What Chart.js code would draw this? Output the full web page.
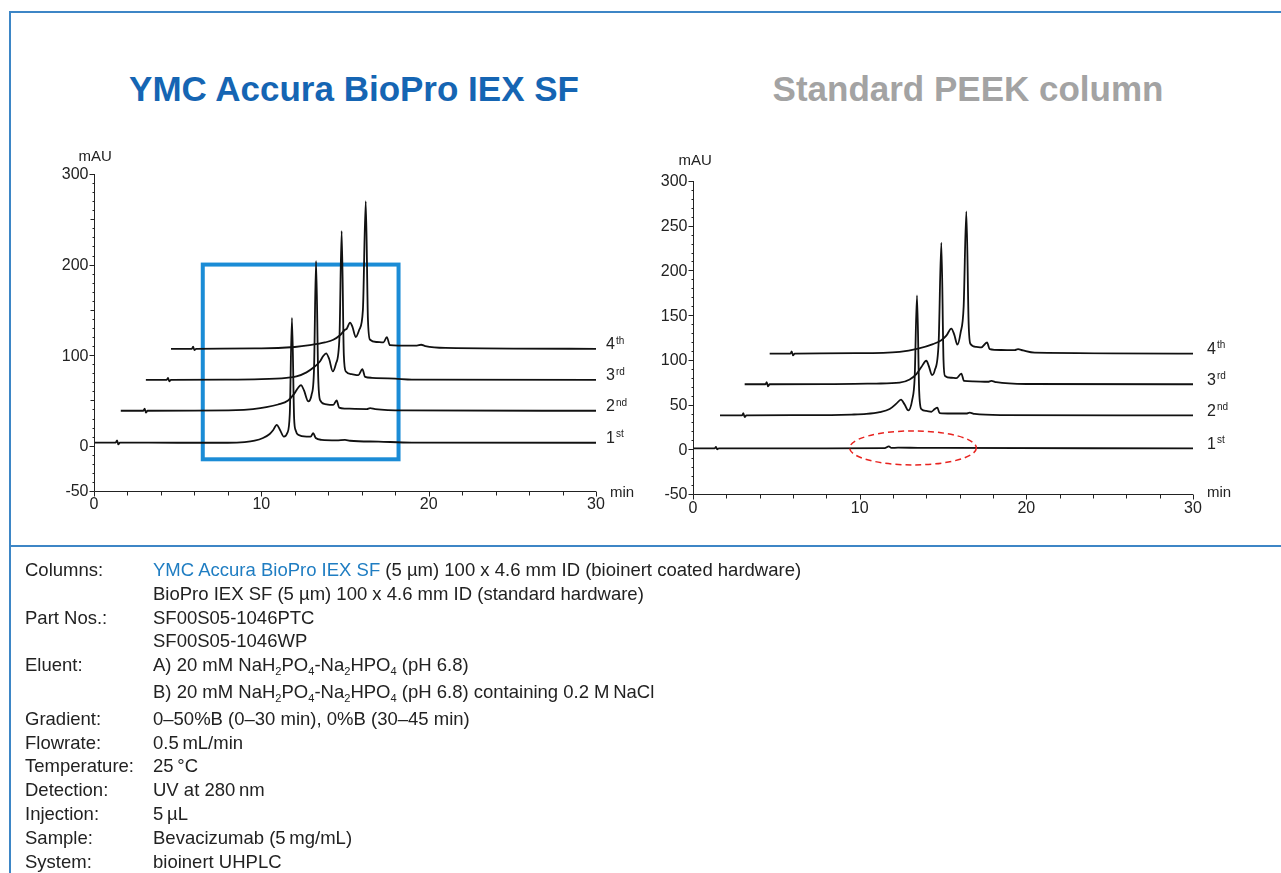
<!DOCTYPE html>
<html>
<head>
<meta charset="utf-8">
<script src="https://cdn.jsdelivr.net/npm/chart.js@4/dist/chart.umd.min.js"></script>
<style>
  body { margin: 0; width: 1281px; height: 873px; position: relative; overflow: hidden; background: #fff;
         font-family: "Liberation Sans", Arial, sans-serif; color: #222; }
  .frame { position: absolute; left: 9px; top: 11px; right: -4px; bottom: -4px;
           border-top: 2px solid #3d86c6; border-left: 2px solid #3d86c6; }
  .divider { position: absolute; left: 10px; right: 0; top: 545px; height: 2px; background: #3d86c6; }
  .title { position: absolute; top: 68px; width: 640px; text-align: center; font-size: 35px; line-height: 42px; font-weight: bold; }
  canvas { position: absolute; left: 0; top: 0; }
  .info { position: absolute; left: 25px; top: 558px; font-size: 18.5px; line-height: 23.8px; }
  .row { display: flex; white-space: nowrap; }
  .row .k { width: 128px; }
  .s { font-size: 0.6em; position: relative; top: 0.35em; }
  .blue { color: #1f7dc2; }
</style>
</head>
<body>
<div class="frame"></div>
<div class="divider"></div>
<div class="title" style="left:34px; color:#1565b3;">YMC Accura BioPro IEX SF</div>
<div class="title" style="left:648px; color:#a3a3a3;">Standard PEEK column</div>
<canvas id="ymc-chart" width="1281" height="873"></canvas>
<canvas id="peek-chart" width="1281" height="873"></canvas>
<div class="info">
  <div class="row"><span class="k">Columns:</span><span><span class="blue">YMC Accura BioPro IEX SF</span> (5 µm) 100 x 4.6 mm ID (bioinert coated hardware)</span></div>
  <div class="row"><span class="k"></span><span>BioPro IEX SF (5 µm) 100 x 4.6 mm ID (standard hardware)</span></div>
  <div class="row"><span class="k">Part Nos.:</span><span>SF00S05-1046PTC</span></div>
  <div class="row"><span class="k"></span><span>SF00S05-1046WP</span></div>
  <div class="row"><span class="k">Eluent:</span><span>A) 20 mM NaH<span class="s">2</span>PO<span class="s">4</span>-Na<span class="s">2</span>HPO<span class="s">4</span> (pH 6.8)</span></div>
  <div class="row"><span class="k"></span><span>B) 20 mM NaH<span class="s">2</span>PO<span class="s">4</span>-Na<span class="s">2</span>HPO<span class="s">4</span> (pH 6.8) containing 0.2 M&thinsp;NaCl</span></div>
  <div class="row"><span class="k">Gradient:</span><span>0–50%B (0–30 min), 0%B (30–45 min)</span></div>
  <div class="row"><span class="k">Flowrate:</span><span>0.5&thinsp;mL/min</span></div>
  <div class="row"><span class="k">Temperature:</span><span>25&thinsp;°C</span></div>
  <div class="row"><span class="k">Detection:</span><span>UV at 280&thinsp;nm</span></div>
  <div class="row"><span class="k">Injection:</span><span>5&thinsp;µL</span></div>
  <div class="row"><span class="k">Sample:</span><span>Bevacizumab (5&thinsp;mg/mL)</span></div>
  <div class="row"><span class="k">System:</span><span>bioinert UHPLC</span></div>
</div>
<script>
// run labels (1st..4th)
const runNumbers = ['1', '2', '3', '4'];
const runSuffixes = ['st', 'nd', 'rd', 'th'];

// axis tick labels
const timeTicks = [0, 10, 20, 30];
const ymcMauTicks = [300, 200, 100, 0, -50];
const peekMauTicks = [300, 250, 200, 150, 100, 50, 0, -50];

// YMC Accura BioPro IEX SF, [min, mAU] as stacked in the figure
const ymcRun1 = [[0, 3.5], [1.3, 3.5], [1.38, 6], [1.45, 1.5], [1.55, 3.5], [5, 3.3], [8, 3.3], [9, 4], [9.6, 5.5],
  [10.1, 8.5], [10.5, 13], [10.7, 17], [10.92, 23], [11.1, 18], [11.35, 10], [11.55, 14], [11.7, 35], [11.83, 141],
  [11.96, 30], [12.05, 17], [12.2, 12], [12.7, 10], [12.95, 10], [13.1, 14], [13.25, 8.5], [13.6, 6.5], [14.5, 6],
  [15, 6.5], [15.3, 5.5], [17, 4.5], [19, 3.5], [30, 3.3]];
const ymcRun2 = [[1.6, 38.6], [2.95, 38.6], [3.03, 41], [3.1, 36.5], [3.2, 38.6], [6, 38.8], [8.5, 39.2], [9.5, 40.5],
  [10.3, 42.5], [11, 45.5], [11.6, 50], [11.95, 57], [12.2, 64], [12.37, 67], [12.55, 61], [12.8, 49], [13.0, 56],
  [13.15, 85], [13.27, 204], [13.4, 75], [13.52, 50], [13.8, 46], [14.3, 45], [14.5, 50], [14.65, 42], [15, 41],
  [16.3, 40.5], [16.5, 41.5], [16.8, 40.5], [18.5, 39], [30, 38.6]];
const ymcRun3 = [[3.1, 72.8], [4.35, 72.8], [4.42, 75], [4.5, 71], [4.6, 72.8], [8, 73], [10, 73.5], [11.5, 75],
  [12.1, 76.5], [12.7, 81], [13.1, 86], [13.5, 93], [13.7, 99], [13.87, 102], [14.05, 96], [14.27, 82], [14.45, 90],
  [14.67, 120], [14.8, 237], [14.93, 100], [15.05, 82], [15.4, 79], [15.8, 78], [16.04, 84.5], [16.2, 76], [16.6, 75],
  [18, 74], [19, 73], [30, 72.8]];
const ymcRun4 = [[4.6, 107], [5.85, 107], [5.92, 109.5], [6, 105.5], [6.1, 107], [10, 107.5], [12, 109], [12.9, 111],
  [13.8, 114], [14.3, 117], [14.7, 122], [15, 128], [15.1, 129], [15.3, 136], [15.45, 131], [15.64, 120], [15.85, 128],
  [16.07, 150], [16.24, 270], [16.37, 140], [16.5, 117], [16.9, 114.5], [17.3, 114], [17.5, 120], [17.68, 111],
  [18.2, 110.5], [19.3, 110.5], [19.55, 111.5], [19.8, 110], [21, 108], [30, 107]];

// Standard PEEK column
const peekRun1 = [[0, 1], [1.3, 1], [1.38, 2.8], [1.45, 0], [1.55, 1], [8, 1], [11.5, 1.3], [11.75, 3.3], [11.9, 1.5],
  [12.3, 1.8], [13.5, 1.6], [15, 1.5], [30, 1]];
const peekRun2 = [[1.62, 38], [2.95, 38], [3.02, 40.5], [3.1, 36], [3.2, 38], [7, 38.2], [9.5, 38.8], [10.4, 39.5],
  [11.2, 41.5], [11.8, 45], [12.2, 51], [12.48, 55.5], [12.7, 50], [12.92, 43.5], [13.15, 55], [13.3, 80], [13.44, 172],
  [13.57, 65], [13.7, 45], [14, 43], [14.3, 42], [14.5, 45], [14.66, 46.5], [14.8, 40.5], [15.5, 40], [16.4, 40],
  [16.6, 41], [16.9, 39.5], [18.5, 38.2], [30, 38]];
const peekRun3 = [[3.1, 72.7], [4.35, 72.7], [4.42, 75], [4.5, 70.5], [4.6, 72.7], [8, 72.8], [11, 73.5], [12.4, 74.5],
  [13, 78], [13.4, 84], [13.7, 92], [14, 99], [14.15, 93], [14.34, 83], [14.5, 88], [14.74, 120], [14.9, 231],
  [15.03, 100], [15.12, 82], [15.5, 80], [15.8, 79.5], [16.1, 84.6], [16.26, 76.5], [16.8, 76], [17.7, 75.5],
  [17.9, 76.5], [18.2, 75], [20, 73], [30, 72.7]];
const peekRun4 = [[4.6, 107], [5.85, 107], [5.92, 109.5], [6, 105], [6.1, 107], [10, 107.5], [12.4, 109], [13.5, 112.5],
  [14.4, 117.6], [14.9, 122], [15.2, 127], [15.5, 135], [15.68, 128], [15.86, 117], [16.05, 130], [16.24, 160],
  [16.4, 266], [16.54, 140], [16.64, 118], [17, 114.5], [17.3, 114], [17.64, 119.4], [17.8, 112], [18.5, 111],
  [19.3, 110.8], [19.5, 112], [19.8, 110.5], [20.5, 108], [30, 107]];

// highlights
const ymcBox = { t0: 6.5, t1: 18.2, v0: -15, v1: 200 };
const peekEllipse = { t: 13.2, v: 1.5, rt: 3.8, rv: 19 };

const FONT = '"Liberation Sans", Arial, sans-serif';

const toPoints = run => run.map(p => ({ x: p[0], y: p[1] }));

// draws axes, tick marks, unit texts and run labels through the chart scales
const decor = o => ({
    id: 'decor',
    beforeDatasetsDraw(chart) {
        const { ctx, scales: { x, y } } = chart;
        if (o.box) {
            const b = o.box;
            ctx.save();
            ctx.strokeStyle = '#1b8cd6';
            ctx.lineWidth = 4;
            ctx.strokeRect(x.getPixelForValue(b.t0), y.getPixelForValue(b.v1),
                x.getPixelForValue(b.t1) - x.getPixelForValue(b.t0), y.getPixelForValue(b.v0) - y.getPixelForValue(b.v1));
            ctx.restore();
        }
    },
    afterDatasetsDraw(chart) {
        const { ctx, chartArea: a, scales: { x, y } } = chart;
        ctx.save();
        ctx.strokeStyle = '#222';
        ctx.fillStyle = '#222';
        ctx.lineWidth = 1;

        // y axis
        const ax = Math.round(a.left) + 0.5;
        const ay = Math.round(y.getPixelForValue(-50)) + 0.5;
        ctx.beginPath();
        ctx.moveTo(ax, y.getPixelForValue(300));
        ctx.lineTo(ax, ay);
        for (let v = -50; v <= 300; v += 10) {
            const py = Math.round(y.getPixelForValue(v)) + 0.5;
            const len = o.yTicks.includes(v) ? 5 : (v % 50 === 0 ? 4 : 2);
            ctx.moveTo(ax - len, py);
            ctx.lineTo(ax, py);
        }
        // x axis
        ctx.moveTo(ax, ay);
        ctx.lineTo(x.getPixelForValue(30), ay);
        for (let t = 0; t <= 30; t += 2) {
            const px = Math.round(x.getPixelForValue(t)) + 0.5;
            ctx.moveTo(px, ay);
            ctx.lineTo(px, ay + (t % 10 === 0 ? 5 : 4));
        }
        ctx.stroke();

        ctx.font = '16px ' + FONT;
        ctx.textBaseline = 'middle';
        ctx.textAlign = 'right';
        o.yTicks.forEach(v => ctx.fillText(String(v), ax - 6, y.getPixelForValue(v) + 1));
        ctx.textAlign = 'center';
        timeTicks.forEach(t => ctx.fillText(String(t), x.getPixelForValue(t), ay + o.xLabelGap));
        ctx.textAlign = 'left';
        ctx.font = '15px ' + FONT;
        ctx.fillText('mAU', ax + o.mau[0], y.getPixelForValue(300) + o.mau[1]);
        ctx.fillText('min', x.getPixelForValue(30) + 14, ay + o.minDy);

        // run labels at the right end of each trace
        o.runs.forEach((run, i) => {
            const py = y.getPixelForValue(run[run.length - 1][1]) - 4;
            const px = x.getPixelForValue(30) + o.labelGap;
            ctx.font = '16px ' + FONT;
            ctx.fillText(runNumbers[i], px, py);
            const w = ctx.measureText(runNumbers[i]).width;
            ctx.font = '10px ' + FONT;
            ctx.fillText(runSuffixes[i], px + w + 1, py - 4);
        });

        if (o.ellipse) {
            const e = o.ellipse;
            const cx = x.getPixelForValue(e.t), cy = y.getPixelForValue(e.v);
            ctx.strokeStyle = '#e8231f';
            ctx.lineWidth = 1.5;
            ctx.setLineDash([6, 4]);
            ctx.beginPath();
            ctx.ellipse(cx, cy, x.getPixelForValue(e.t + e.rt) - cx, cy - y.getPixelForValue(e.v + e.rv), 0, 0, Math.PI * 2);
            ctx.stroke();
        }
        ctx.restore();
    }
});

const makeChart = (id, runs, padding, opts) => new Chart(document.getElementById(id).getContext('2d'), {
    type: 'line',
    data: {
        datasets: runs.map((run, i) => ({
            label: runNumbers[i] + runSuffixes[i],
            data: toPoints(run),
            borderColor: '#111',
            borderWidth: 1.8,
            pointRadius: 0,
            fill: false,
            cubicInterpolationMode: 'monotone'
        }))
    },
    options: {
        responsive: false,
        animation: false,
        layout: { padding: padding },
        plugins: { legend: { display: false }, tooltip: { enabled: false } },
        scales: {
            x: { type: 'linear', min: 0, max: 30, display: false },
            y: { type: 'linear', min: -50, max: 300, display: false }
        }
    },
    plugins: [decor(Object.assign({ runs: runs }, opts))]
});

makeChart('ymc-chart', [ymcRun1, ymcRun2, ymcRun3, ymcRun4],
    { left: 94, right: 685, top: 174, bottom: 382 },
    { yTicks: ymcMauTicks, box: ymcBox, xLabelGap: 13, mau: [-16, -17], minDy: 1, labelGap: 10 });

makeChart('peek-chart', [peekRun1, peekRun2, peekRun3, peekRun4],
    { left: 693, right: 88, top: 181, bottom: 379 },
    { yTicks: peekMauTicks, ellipse: peekEllipse, xLabelGap: 14, mau: [-15, -20], minDy: -2, labelGap: 14 });
</script>
</body>
</html>
